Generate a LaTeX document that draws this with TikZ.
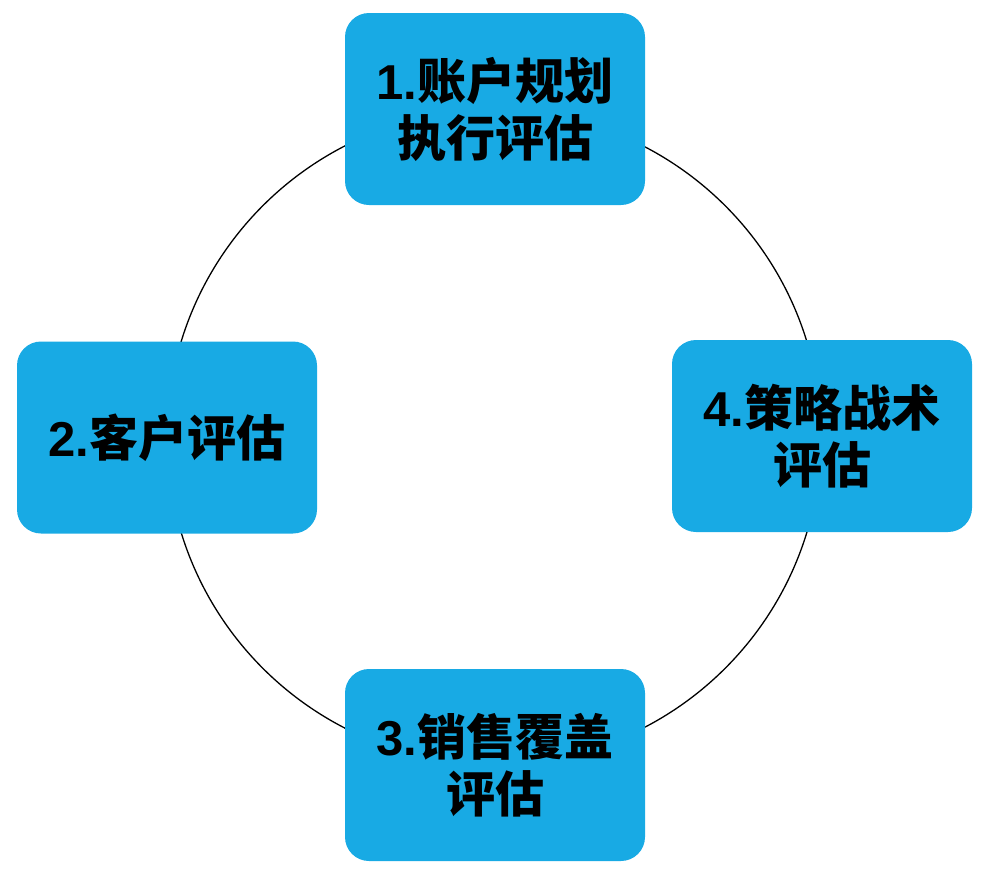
\documentclass[tikz,border=0pt]{standalone}
\usepackage{fontspec}
\usepackage{xcolor}
\newfontfamily\cjk{Noto Sans CJK SC}
\newfontfamily\arialnum{Liberation Sans}
\newcommand*{\stagenum}[1]{{\arialnum #1.}}
\definecolor{stageblue}{RGB}{24,170,228}

\begin{document}
\begin{tikzpicture}[x=1pt, y=-1pt,
  stage/.style={rectangle, rounded corners=24pt, fill=stageblue, minimum width=300pt, minimum height=192pt, inner sep=0pt, align=center, font=\cjk\bfseries\fontsize{49}{57}\selectfont}]
\useasboundingbox (0,0) rectangle (991,881);
\node (ring) [circle, draw, line width=1.3pt, minimum size=654pt, inner sep=0pt] at (494,437) {};
\node (plan) [stage] at (495,109) {\stagenum{1}账户规划\\执行评估};
\node (client) [stage] at (167,437.5) {\stagenum{2}客户评估};
\node (cover) [stage] at (495,765) {\stagenum{3}销售覆盖\\评估};
\node (tactic) [stage] at (822,436) {\stagenum{4}策略战术\\评估};
\end{tikzpicture}
\end{document}
